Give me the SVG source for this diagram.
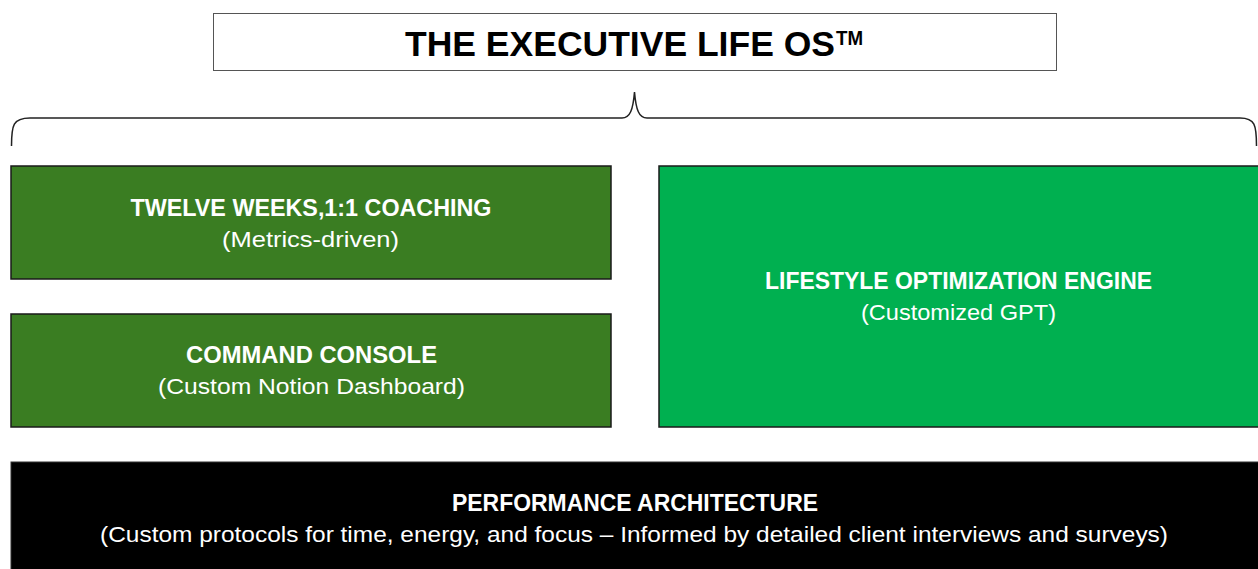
<svg xmlns="http://www.w3.org/2000/svg" width="1258" height="569" viewBox="0 0 1258 569">
<style>
.box{stroke:#1a1a1a;stroke-width:1.5}
.h{font-family:"Liberation Sans",Arial,sans-serif;font-weight:bold;font-size:23px;fill:#fff;text-anchor:middle}
.s{font-family:"Liberation Sans",Arial,sans-serif;font-size:22.5px;fill:#fff;text-anchor:middle}
</style>
<rect width="1258" height="569" fill="#fff"/>
<g id="title">
<rect x="213.5" y="13.5" width="843" height="57" fill="#fff" stroke="#555" stroke-width="1"/>
<text x="405" y="56" font-family="Liberation Sans,Arial,sans-serif" font-weight="bold" font-size="35" fill="#000" textLength="430" lengthAdjust="spacingAndGlyphs">THE EXECUTIVE LIFE OS</text>
<text x="836" y="45" font-family="Liberation Sans,Arial,sans-serif" font-weight="bold" font-size="21" fill="#000" textLength="27" lengthAdjust="spacingAndGlyphs">TM</text>
</g>
<g id="connectors">
<path d="M11.5 146 C11.5 125 13 118 30 118 L622 118 C630 118 633 110 634.5 92 C636 110 639 118 647 118 L1240 118 C1255 118 1256.5 125 1256.5 146" fill="none" stroke="#222" stroke-width="1.5"/>
</g>
<g id="coaching">
<rect class="box" x="11" y="166" width="600" height="113" fill="#3a7d22"/>
<text class="h" x="311" y="216" textLength="361" lengthAdjust="spacingAndGlyphs">TWELVE WEEKS,1:1 COACHING</text>
<text class="s" x="310.5" y="247" textLength="177" lengthAdjust="spacingAndGlyphs">(Metrics-driven)</text>
</g>
<g id="console">
<rect class="box" x="11" y="314" width="600" height="113" fill="#3a7d22"/>
<text class="h" x="311.5" y="363" textLength="251" lengthAdjust="spacingAndGlyphs">COMMAND CONSOLE</text>
<text class="s" x="311.5" y="394" textLength="307" lengthAdjust="spacingAndGlyphs">(Custom Notion Dashboard)</text>
</g>
<g id="engine">
<rect class="box" x="659" y="166" width="602" height="261" fill="#00b050"/>
<text class="h" x="958.5" y="289" textLength="387" lengthAdjust="spacingAndGlyphs">LIFESTYLE OPTIMIZATION ENGINE</text>
<text class="s" x="958.5" y="320" textLength="195" lengthAdjust="spacingAndGlyphs">(Customized GPT)</text>
</g>
<g id="architecture">
<rect x="11" y="462" width="1250" height="110" fill="#000" stroke="#333" stroke-width="1"/>
<text class="h" x="635" y="511" textLength="366" lengthAdjust="spacingAndGlyphs">PERFORMANCE ARCHITECTURE</text>
<text class="s" x="634" y="542" textLength="1068" lengthAdjust="spacingAndGlyphs">(Custom protocols for time, energy, and focus – Informed by detailed client interviews and surveys)</text>
</g>
</svg>
